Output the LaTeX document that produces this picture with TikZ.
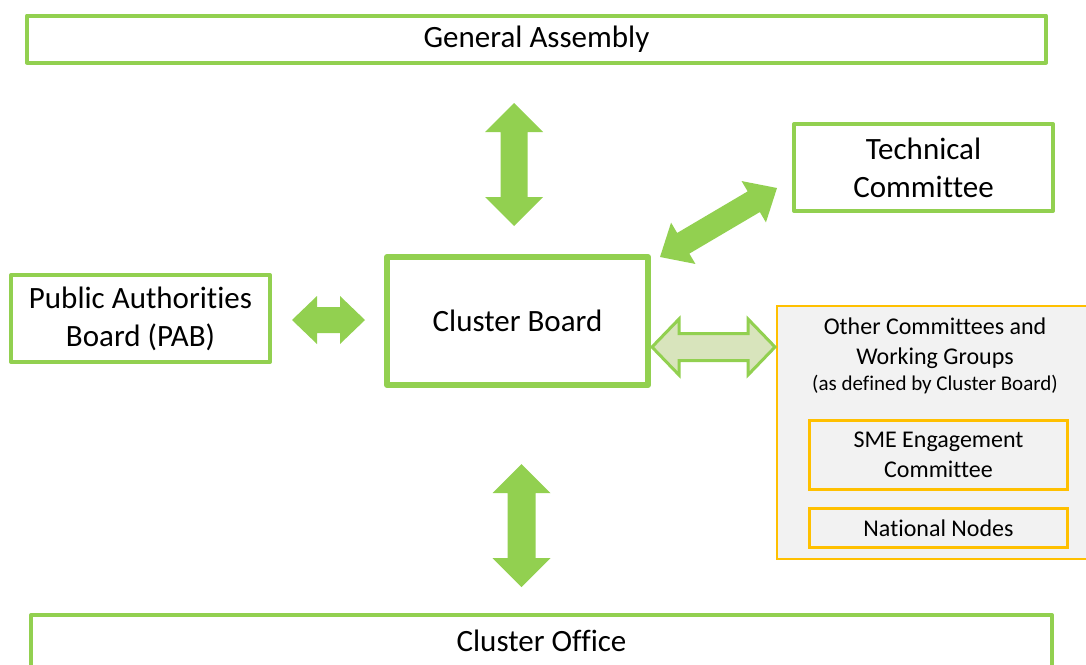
\documentclass[tikz,border=0pt]{standalone}
\usepackage{fontspec}
\setmainfont{Carlito}[Ligatures=NoCommon]
\usetikzlibrary{calc}
\definecolor{grn}{HTML}{92D050}
\definecolor{lgrn}{HTML}{D8E4BC}
\definecolor{gold}{HTML}{FFC000}
\definecolor{grayf}{HTML}{F2F2F2}
% #1 start, #2 end, #3 head length, #4 head half width, #5 shaft half width, #6 style
\newcommand{\dblarrow}[6]{%
  \path[#6] (#1)
    -- ($(#1)!#3!(#2)!#4!90:(#2)$)
    -- ($(#1)!#3!(#2)!#5!90:(#2)$)
    -- ($(#2)!#3!(#1)!#5!-90:(#1)$)
    -- ($(#2)!#3!(#1)!#4!-90:(#1)$)
    -- (#2)
    -- ($(#2)!#3!(#1)!#4!90:(#1)$)
    -- ($(#2)!#3!(#1)!#5!90:(#1)$)
    -- ($(#1)!#3!(#2)!#5!-90:(#2)$)
    -- ($(#1)!#3!(#2)!#4!-90:(#2)$)
    -- cycle;}
\begin{document}
\begin{tikzpicture}[x=1pt,y=-1pt,
  box/.style={draw=grn, line width=4pt, fill=white, inner sep=0pt, align=center,
    line join=round, font=\fontsize{31}{38}\selectfont},
  subbox/.style={draw=gold, line width=2.5pt, fill=grayf, inner sep=0pt, align=center,
    minimum width=258pt, font=\fontsize{24}{30}\selectfont},
  solidarrow/.style={fill=grn},
  lightarrow/.style={fill=lgrn, draw=grn, line width=3pt, line join=miter}]
\useasboundingbox (0,0) rectangle (1086,664);

\node[box, minimum width=1019pt, minimum height=47pt] (GA) at (536.5,39) {General Assembly};
\node[box, minimum width=259pt, minimum height=87pt] (TC) at (923.5,167.5) {Technical\\Committee};
\node[box, line width=6pt, minimum width=261pt, minimum height=128pt] (CB) at (517.5,321) {Cluster Board};
\node[box, minimum width=259pt, minimum height=87pt] (PAB) at (140.5,318.5) {Public Authorities\\Board (PAB)};
\node[box, minimum width=1021pt, minimum height=52pt] (CO) at (541.5,641) {Cluster Office};

\node[draw=gold, line width=2pt, fill=grayf, inner sep=0pt, minimum width=310pt, minimum height=253pt] (OC) at (932,432.5) {};
\node[font=\fontsize{24}{30}\selectfont, align=center, inner sep=0pt] (OCt) at (935,343) {Other Committees and\\Working Groups};
\node[font=\fontsize{21}{25}\selectfont, inner sep=0pt] (OCs) at (935,385) {(as defined by Cluster Board)};
\node[subbox, minimum height=69pt] (SME) at (938.5,455) {SME Engagement\\Committee};
\node[subbox, minimum height=39pt] (NN) at (938.5,528) {National Nodes};

% arrow end points
\coordinate (t1) at (514,103);
\coordinate (t2) at (514,226);
\coordinate (b1) at (521.5,464);
\coordinate (b2) at (521.5,587);
\coordinate (l1) at (292,320);
\coordinate (l2) at (365,320);
\coordinate (d1) at (660,257);
\coordinate (d2) at (777,188);
\coordinate (r1) at (652,347);
\coordinate (r2) at (775,347);

\dblarrow{t1}{t2}{29pt}{29pt}{13.5pt}{solidarrow}
\dblarrow{b1}{b2}{29pt}{29pt}{14pt}{solidarrow}
\dblarrow{l1}{l2}{25pt}{24pt}{13pt}{solidarrow}
\dblarrow{d1}{d2}{27pt}{24pt}{12pt}{solidarrow}
\dblarrow{r1}{r2}{27pt}{28pt}{13.5pt}{lightarrow}
\end{tikzpicture}
\end{document}
